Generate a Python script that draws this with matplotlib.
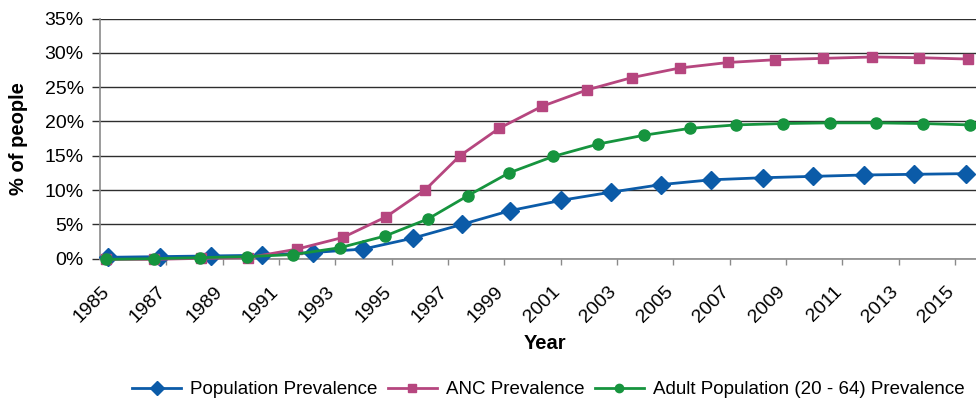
import matplotlib

matplotlib.use("Agg")
import matplotlib.pyplot as plt
from matplotlib.ticker import FuncFormatter

plt.rcParams.update(
    {
        "font.family": ["Liberation Sans", "DejaVu Sans"],
        "axes.linewidth": 1.0,
    }
)

BLUE = "#0B5BA8"
PINK = "#B6467F"
GREEN = "#16943E"
GRID = "#2E2E2E"
AXIS_GRAY = "#8A8A8A"

# prevalence series (% of people), sampled at fractional years
pop_years = [1984.93, 1986.77, 1988.59, 1990.40, 1992.21, 1993.99, 1995.76,
             1997.50, 1999.20, 2001.01, 2002.79, 2004.56, 2006.34, 2008.18,
             2009.96, 2011.77, 2013.54, 2015.39]
pop_vals = [0.2, 0.3, 0.4, 0.5, 0.9, 1.4, 3.0, 5.0, 7.0, 8.5, 9.7, 10.8,
            11.5, 11.8, 12.0, 12.2, 12.3, 12.4]

anc_years = [1984.86, 1986.56, 1988.23, 1989.90, 1991.64, 1993.27, 1994.80,
             1996.18, 1997.42, 1998.81, 2000.33, 2001.93, 2003.53, 2005.23,
             2006.94, 2008.61, 2010.31, 2012.05, 2013.72, 2015.46]
anc_vals = [-0.1, -0.1, 0.05, 0.15, 1.4, 3.1, 6.1, 10.0, 15.0, 19.0, 22.2,
            24.6, 26.4, 27.8, 28.6, 29.0, 29.2, 29.4, 29.3, 29.1]

adult_years = [1984.86, 1986.56, 1988.19, 1989.86, 1991.50, 1993.16, 1994.76,
               1996.29, 1997.71, 1999.16, 2000.73, 2002.32, 2003.96, 2005.59,
               2007.22, 2008.89, 2010.56, 2012.19, 2013.86, 2015.53]
adult_vals = [-0.1, 0.0, 0.15, 0.3, 0.6, 1.6, 3.3, 5.8, 9.2, 12.5, 14.9,
              16.7, 18.0, 19.0, 19.5, 19.7, 19.8, 19.8, 19.7, 19.5]

year_ticks = list(range(1985, 2016, 2))
pct_ticks = [0, 5, 10, 15, 20, 25, 30, 35]


def main() -> None:
    fig = plt.figure(figsize=(9.76, 4.04), dpi=100, facecolor="white")
    ax = fig.add_axes([0.1025, 0.3597, 0.8975, 0.5943])

    ax.plot(pop_years, pop_vals, color=BLUE, lw=2.0, marker="D", ms=9.5,
            label="Population Prevalence", clip_on=False, zorder=3)
    ax.plot(anc_years, anc_vals, color=PINK, lw=2.0, marker="s", ms=7.5,
            label="ANC Prevalence", clip_on=False, zorder=3)
    ax.plot(adult_years, adult_vals, color=GREEN, lw=2.0, marker="o", ms=8,
            label="Adult Population (20 - 64) Prevalence", clip_on=False,
            zorder=3)

    ax.set_xlim(1984.645, 2015.742)
    ax.set_ylim(0, 35)
    ax.set_yticks(pct_ticks)
    ax.yaxis.set_major_formatter(FuncFormatter(lambda v, _: f"{v:.0f}%"))
    ax.set_xticks(year_ticks)
    # anchor on the baseline so the right end of each year sits under its tick
    ax.set_xticklabels([str(y) for y in year_ticks], rotation=45,
                       ha="right", va="baseline", rotation_mode="anchor")

    ax.grid(True, axis="y", color=GRID, lw=1.0)
    ax.set_axisbelow(True)
    for side in ("top", "right"):
        ax.spines[side].set_visible(False)
    for side in ("left", "bottom"):
        ax.spines[side].set_color(AXIS_GRAY)
        ax.spines[side].set_linewidth(1.2)

    ax.tick_params(axis="y", length=5.8, width=1.0, color=GRID, pad=6,
                   labelsize=14)
    ax.tick_params(axis="x", length=4.5, width=1.0, color=AXIS_GRAY, pad=20,
                   labelsize=14)

    ax.set_xlabel("Year", fontsize=14.5, fontweight="bold", va="center")
    ax.xaxis.set_label_coords(0.508, -0.355)
    ax.set_ylabel("% of people", fontsize=14.5, fontweight="bold",
                  va="center")
    ax.yaxis.set_label_coords(-0.093, 0.5)

    fig.legend(
        loc="center",
        bbox_to_anchor=(0.562, 0.035),
        ncol=3,
        frameon=False,
        fontsize=13.5,
        handlelength=2.6,
        handletextpad=0.5,
        columnspacing=0.55,
        markerscale=0.75,
        borderpad=0,
    )

    fig.savefig("out.png", dpi=100, facecolor="white")
    plt.close(fig)


if __name__ == "__main__":
    main()
